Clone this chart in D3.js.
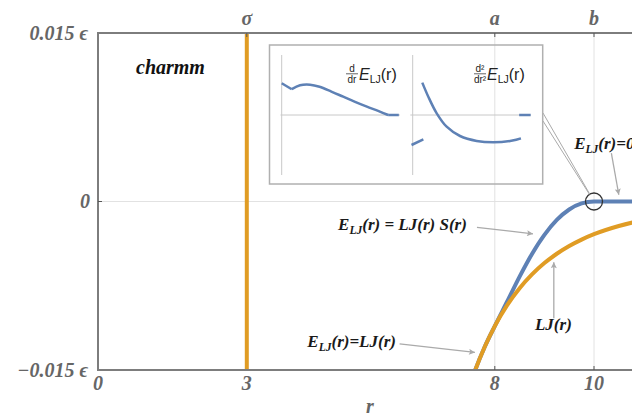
<!DOCTYPE html>
<html>
<head>
<meta charset="utf-8">
<script src="https://cdn.jsdelivr.net/npm/d3@7"></script>
<style>
body { margin: 0; background: #fff; }
svg { display: block; }
</style>
</head>
<body>
<div id="chart"></div>
<script>
// axis ticks
const rTickValues = [0, 3, 8, 10];
const topTickValues = [3, 8, 10];
const topTickLabels = ['σ', 'a', 'b'];
const eTickValues = [0.015, 0, -0.015];
const eTickLabels = ['0.015 ϵ', '0', '−0.015 ϵ'];
const gridR = [3, 8, 10];
const sigmaR = 3;
const switchOffR = 10;

// curves, energies in units of epsilon
const rSamples  = [7.5, 7.6, 7.8, 8, 8.25, 8.5, 8.75, 9, 9.25, 9.5, 9.75, 10, 10.5, 11, 11.5];
const ljValues  = [-0.01632, -0.01507, -0.01291, -0.01109, -0.00923, -0.00772, -0.00649, -0.00548,
                   -0.00465, -0.00396, -0.00339, -0.00291, -0.00218, -0.00165, -0.00126];
const eljValues = [-0.01632, -0.01507, -0.01291, -0.01109, -0.00890, -0.00669, -0.00467, -0.00297,
                   -0.00164, -0.00071, -0.00017, 0, 0, 0, 0];

// inset curves (relative units)
const d1Kink = [[0, 0.53], [0.085, 0.43]];
const d1Curve = [[0.085, 0.43], [0.155, 0.495], [0.24, 0.505], [0.32, 0.47], [0.42, 0.39], [0.52, 0.305],
                 [0.62, 0.22], [0.72, 0.14], [0.82, 0.065], [0.9, 0]];
const d1Flat = [[0.9, 0], [0.99, 0]];
const d2Low = [[-0.01, -0.5], [0.09, -0.405]];
const d2Curve = [[0.081, 0.54], [0.132, 0.305], [0.203, 0.028], [0.287, -0.195], [0.4, -0.35],
                 [0.541, -0.433], [0.682, -0.455], [0.823, -0.433], [0.915, -0.39]];
const d2High = [[0.9, 0], [0.997, 0]];

const width = 632, height = 417;
const blue = '#5e81b5', orange = '#e09c24';
const frameColor = '#7d7d7d', labelColor = '#666666', gridColor = '#e2e2e2', arrowColor = '#aaaaaa';
const serif = '"Liberation Serif", "Times New Roman", serif';
const sans = '"Liberation Sans", Arial, sans-serif';

const svg = d3.select('#chart').append('svg')
    .attr('width', width)
    .attr('height', height);

const x = d3.scaleLinear().domain([0, 11]).range([98, 98 + 11 * 49.6]);
const y = d3.scaleLinear().domain([-0.015, 0.015]).range([370, 33]);

svg.append('defs').append('clipPath').attr('id', 'plot-clip')
    .append('rect')
    .attr('x', x(0)).attr('y', y(0.015))
    .attr('width', x(11) - x(0)).attr('height', y(-0.015) - y(0.015));

svg.select('defs').append('marker')
    .attr('id', 'arrow')
    .attr('viewBox', '0 0 10 10')
    .attr('refX', 10).attr('refY', 5)
    .attr('markerWidth', 9).attr('markerHeight', 6)
    .attr('markerUnits', 'userSpaceOnUse')
    .attr('orient', 'auto')
    .append('path')
    .attr('d', 'M0,0 L10,5 L0,10 L2,5 z')
    .attr('fill', arrowColor);

// gridlines
svg.append('line')
    .attr('x1', x(0)).attr('x2', x(11))
    .attr('y1', y(0)).attr('y2', y(0))
    .attr('stroke', gridColor).attr('stroke-width', 1.2);
svg.selectAll('.vgrid')
    .data(gridR)
    .enter()
    .append('line')
    .attr('class', 'vgrid')
    .attr('x1', d => x(d)).attr('x2', d => x(d))
    .attr('y1', y(0.015)).attr('y2', y(-0.015))
    .attr('stroke', gridColor).attr('stroke-width', 1);

// sigma line
svg.append('line')
    .attr('x1', x(sigmaR)).attr('x2', x(sigmaR))
    .attr('y1', y(0.015)).attr('y2', y(-0.015))
    .attr('stroke', orange).attr('stroke-width', 4);

const curve = d3.line()
    .x(d => x(d[0]))
    .y(d => y(d[1]))
    .curve(d3.curveMonotoneX);

const plot = svg.append('g').attr('clip-path', 'url(#plot-clip)');
plot.append('path')
    .datum(rSamples.map((r, i) => [r, eljValues[i]]))
    .attr('d', curve)
    .attr('fill', 'none').attr('stroke', blue).attr('stroke-width', 4);
plot.append('path')
    .datum(rSamples.map((r, i) => [r, ljValues[i]]))
    .attr('d', curve)
    .attr('fill', 'none').attr('stroke', orange).attr('stroke-width', 4);

// frame
svg.append('rect')
    .attr('x', x(0)).attr('y', y(0.015))
    .attr('width', x(11) - x(0)).attr('height', y(-0.015) - y(0.015))
    .attr('fill', 'none').attr('stroke', frameColor).attr('stroke-width', 2);

// ticks
svg.selectAll('.ttick')
    .data(topTickValues)
    .enter()
    .append('line')
    .attr('x1', d => x(d)).attr('x2', d => x(d))
    .attr('y1', y(0.015)).attr('y2', y(0.015) + 4)
    .attr('stroke', '#555').attr('stroke-width', 1);
svg.selectAll('.btick')
    .data(rTickValues.filter(d => d > sigmaR))
    .enter()
    .append('line')
    .attr('x1', d => x(d)).attr('x2', d => x(d))
    .attr('y1', y(-0.015)).attr('y2', y(-0.015) - 4)
    .attr('stroke', '#555').attr('stroke-width', 1);
svg.append('line')
    .attr('x1', x(0)).attr('x2', x(0) + 4)
    .attr('y1', y(0)).attr('y2', y(0))
    .attr('stroke', '#555').attr('stroke-width', 1);

const tickFont = sel => sel
    .attr('font-family', serif)
    .attr('font-style', 'italic')
    .attr('font-weight', 'bold')
    .attr('font-size', 20)
    .attr('fill', labelColor);

svg.selectAll('.rlabel')
    .data(rTickValues)
    .enter()
    .append('text')
    .attr('x', d => x(d))
    .attr('y', 390)
    .attr('text-anchor', 'middle')
    .text(d => d)
    .call(tickFont);

svg.selectAll('.toplabel')
    .data(topTickValues)
    .enter()
    .append('text')
    .attr('x', d => x(d))
    .attr('y', 25)
    .attr('text-anchor', 'middle')
    .text((d, i) => topTickLabels[i])
    .call(tickFont);

svg.selectAll('.elabel')
    .data(eTickValues)
    .enter()
    .append('text')
    .attr('x', (d, i) => d === 0 ? 90 : 88)
    .attr('y', d => y(d) + 6.5)
    .attr('text-anchor', 'end')
    .text((d, i) => eTickLabels[i])
    .call(tickFont);

svg.append('text')
    .attr('x', 370)
    .attr('y', 413)
    .attr('text-anchor', 'middle')
    .text('r')
    .call(tickFont);

svg.append('text')
    .attr('x', 136)
    .attr('y', 74)
    .attr('font-family', serif)
    .attr('font-style', 'italic')
    .attr('font-weight', 'bold')
    .attr('font-size', 20)
    .attr('fill', '#111')
    .text('charmm');

// text with subscripts
function richText(parent, px, py, parts, size) {
    const t = parent.append('text')
        .attr('x', px).attr('y', py)
        .attr('font-family', serif)
        .attr('font-style', 'italic')
        .attr('font-weight', 'bold')
        .attr('font-size', size)
        .attr('fill', '#1a1a1a');
    let shifted = false;
    parts.forEach(p => {
        const ts = t.append('tspan').text(p.t);
        if (p.sub) {
            ts.attr('font-size', size * 0.68).attr('dy', size * 0.25);
            shifted = true;
        } else if (shifted) {
            ts.attr('dy', -size * 0.25);
            shifted = false;
        }
    });
    return t;
}

function arrow(x1, y1, x2, y2) {
    svg.append('line')
        .attr('x1', x1).attr('y1', y1)
        .attr('x2', x2).attr('y2', y2)
        .attr('stroke', arrowColor).attr('stroke-width', 1.3)
        .attr('marker-end', 'url(#arrow)');
}

richText(svg, x(4.84), y(-0.0025), [{t: 'E'}, {t: 'LJ', sub: true}, {t: '(r) = LJ(r) S(r)'}], 17);
arrow(x(7.64), y(-0.0023), x(8.77), y(-0.00288));

richText(svg, x(8.81), y(-0.01148), [{t: 'LJ(r)'}], 17);
arrow(x(9.19), y(-0.0104), x(9.19), y(-0.0054));

richText(svg, x(4.22), y(-0.01296), [{t: 'E'}, {t: 'LJ', sub: true}, {t: '(r)=LJ(r)'}], 17);
arrow(x(6.08), y(-0.01267), x(7.6), y(-0.01344));

richText(svg, x(9.6), y(0.0047), [{t: 'E'}, {t: 'LJ', sub: true}, {t: '(r)=0'}], 17);
arrow(x(10.35), y(0.0043), x(10.5), y(0.0006));

// circle at switch-off point
const cx = x(switchOffR), cy = y(0), cr = 8.5;
svg.append('circle')
    .attr('cx', cx).attr('cy', cy).attr('r', cr)
    .attr('fill', 'none').attr('stroke', '#333').attr('stroke-width', 1.3);

// inset
const inset = {x0: 269.5, y0: 45, x1: 542.7, y1: 184};
[[543, 113], [543, 121]].forEach(p => {
    const dx = p[0] - cx, dy = p[1] - cy;
    const len = Math.sqrt(dx * dx + dy * dy);
    svg.append('line')
        .attr('x1', p[0]).attr('y1', p[1])
        .attr('x2', cx + dx / len * cr).attr('y2', cy + dy / len * cr)
        .attr('stroke', arrowColor).attr('stroke-width', 1);
});
svg.append('rect')
    .attr('x', inset.x0).attr('y', inset.y0)
    .attr('width', inset.x1 - inset.x0).attr('height', inset.y1 - inset.y0)
    .attr('fill', 'none').attr('stroke', '#b0b0b0').attr('stroke-width', 1.5);

const iy = d3.scaleLinear().domain([-1, 1]).range([175, 55]);
const ixL = d3.scaleLinear().domain([0, 1]).range([281.7, 400]);
const ixR = d3.scaleLinear().domain([0, 1]).range([412.7, 531]);

function insetAxes(ix, uMin, uMax) {
    svg.append('line')
        .attr('x1', ix(0)).attr('x2', ix(0))
        .attr('y1', iy(1)).attr('y2', iy(-1))
        .attr('stroke', '#c8c8c8').attr('stroke-width', 1);
    svg.append('line')
        .attr('x1', ix(uMin)).attr('x2', ix(uMax))
        .attr('y1', iy(0)).attr('y2', iy(0))
        .attr('stroke', '#c8c8c8').attr('stroke-width', 1);
}
insetAxes(ixL, -0.01, 1.0);
insetAxes(ixR, -0.02, 1.0);

function insetPath(ix, data, c) {
    svg.append('path')
        .datum(data)
        .attr('d', d3.line().x(d => ix(d[0])).y(d => iy(d[1])).curve(c))
        .attr('fill', 'none').attr('stroke', blue).attr('stroke-width', 2.5);
}
insetPath(ixL, d1Kink, d3.curveLinear);
insetPath(ixL, d1Curve, d3.curveCatmullRom.alpha(0.5));
insetPath(ixL, d1Flat, d3.curveLinear);
insetPath(ixR, d2Low, d3.curveLinear);
insetPath(ixR, d2Curve, d3.curveCatmullRom.alpha(0.5));
insetPath(ixR, d2High, d3.curveLinear);

function insetLabel(fx, num, den) {
    const g = svg.append('g')
        .attr('font-family', sans)
        .attr('fill', '#222');
    g.append('text').attr('x', fx).attr('y', 72).attr('text-anchor', 'middle')
        .attr('font-size', 10).text(num);
    g.append('line').attr('x1', fx - 6).attr('x2', fx + 6)
        .attr('y1', 73.8).attr('y2', 73.8)
        .attr('stroke', '#222').attr('stroke-width', 0.7);
    g.append('text').attr('x', fx).attr('y', 82.5).attr('text-anchor', 'middle')
        .attr('font-size', 10).text(den);
    const t = g.append('text').attr('x', fx + 7).attr('y', 80).attr('font-size', 16);
    t.append('tspan').attr('font-style', 'italic').text('E');
    t.append('tspan').attr('font-size', 10.5).attr('dy', 3).text('LJ');
    t.append('tspan').attr('dy', -3).text('(r)');
}
insetLabel(352, 'd', 'dr');
insetLabel(480, 'd²', 'dr²');
</script>
</body>
</html>
